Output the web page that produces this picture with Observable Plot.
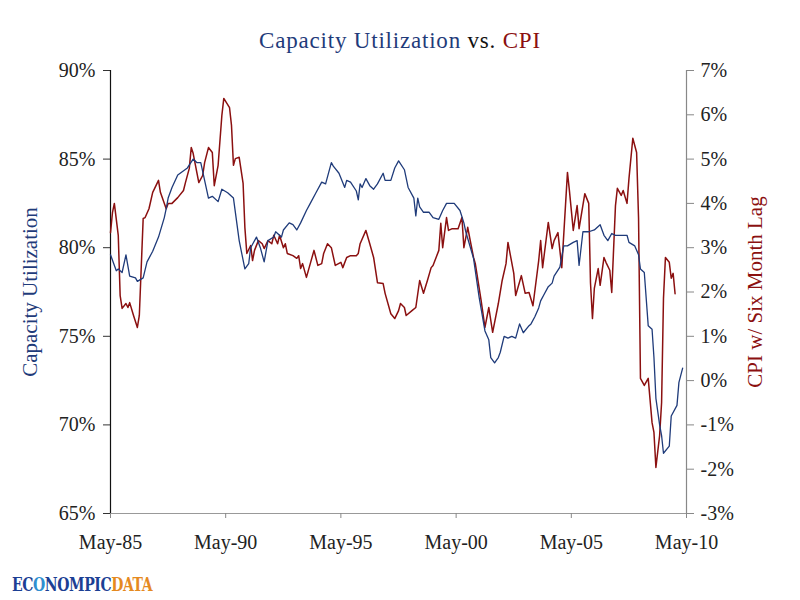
<!DOCTYPE html>
<html>
<head>
<meta charset="utf-8">
<script src="https://cdn.jsdelivr.net/npm/d3@7"></script>
<script src="https://cdn.jsdelivr.net/npm/@observablehq/plot@0.6"></script>
<style>
  html, body { margin: 0; padding: 0; background: #fff; }
  #wrap { position: relative; width: 800px; height: 600px; overflow: hidden; font-family: "Liberation Serif", serif; }
  #title { position: absolute; left: 0; top: 0; width: 800px; height: 60px; text-align: center; font-size: 23px; letter-spacing: 0.8px; line-height: 82px; }
  #chart { position: absolute; left: 0; top: 60px; }
  #logo { position: absolute; left: 12px; top: 573px; font-family: "DejaVu Serif Condensed", "DejaVu Serif", serif; font-weight: 900; font-size: 19px; letter-spacing: -0.5px; transform: scale(0.82, 1); transform-origin: 0 0; white-space: nowrap; }
</style>
</head>
<body>
<div id="wrap">
  <div id="title"><span style="color:#1f3b7a">Capacity Utilization</span> <span style="color:#111">vs.</span> <span style="color:#8b1010">CPI</span></div>
  <div id="chart"></div>
  <div id="logo"><span style="color:#1c3f94">EC</span><span style="color:#2f8fd0">O</span><span style="color:#1c3f94">NOMPIC</span><span style="color:#e58a1f">DATA</span></div>
</div>
<script>
// Capacity utilization (%), monthly readings [month, value]
const cuSeries = [
  ["1985-05",79.6],["1985-08",78.7],["1985-09",78.8],["1985-11",78.6],["1986-01",79.6],["1986-03",78.4],
  ["1986-06",78.3],["1986-07",78.1],["1986-10",78.3],["1986-12",79.2],["1987-03",79.8],["1987-06",80.6],
  ["1987-09",81.7],["1987-10",82.2],["1987-11",82.8],["1988-01",83.4],["1988-04",84.1],["1988-09",84.5],
  ["1988-12",85.0],["1989-02",84.8],["1989-04",84.8],["1989-08",82.8],["1989-10",82.9],["1990-01",82.6],
  ["1990-03",83.3],["1990-06",83.1],["1990-09",82.8],["1990-12",80.4],["1991-03",78.8],["1991-05",79.1],
  ["1991-06",80.0],["1991-09",80.6],["1991-11",80.0],["1992-01",79.2],["1992-03",80.4],["1992-06",80.6],
  ["1992-07",80.9],["1992-10",80.6],["1992-11",81.0],["1993-02",81.4],["1993-04",81.3],["1993-06",81.0],
  ["1993-08",81.4],["1993-11",82.1],["1994-01",82.5],["1994-04",83.1],["1994-07",83.7],["1994-09",83.6],
  ["1994-12",84.8],["1995-01",84.6],["1995-04",84.2],["1995-07",83.4],["1995-08",83.8],["1995-10",83.7],
  ["1996-01",83.2],["1996-02",82.7],["1996-03",83.6],["1996-04",83.4],["1996-06",83.9],["1996-08",83.5],
  ["1996-10",83.3],["1996-12",83.6],["1997-03",84.2],["1997-04",83.8],["1997-07",83.8],["1997-09",84.5],
  ["1997-11",84.9],["1998-02",84.4],["1998-04",83.4],["1998-07",82.8],["1998-08",81.8],["1998-09",82.8],
  ["1998-10",82.3],["1998-12",82.0],["1999-03",82.0],["1999-05",81.7],["1999-08",81.6],["1999-10",82.1],
  ["1999-12",82.5],["2000-02",82.5],["2000-04",82.5],["2000-07",82.1],["2000-09",81.4],["2000-10",80.9],
  ["2001-02",79.4],["2001-05",77.2],["2001-08",75.3],["2001-10",74.8],["2001-11",73.8],["2002-01",73.5],
  ["2002-03",73.8],["2002-04",74.1],["2002-06",75.0],["2002-08",74.9],["2002-10",75.0],["2002-12",74.9],
  ["2003-02",75.7],["2003-04",75.2],["2003-07",75.6],["2003-08",75.7],["2003-10",76.1],["2003-12",76.6],
  ["2004-01",77.0],["2004-03",77.4],["2004-05",77.8],["2004-07",78.0],["2004-08",78.4],["2004-11",78.9],
  ["2005-01",80.1],["2005-03",80.1],["2005-06",80.3],["2005-08",80.4],["2005-09",79.0],["2005-11",80.9],
  ["2006-02",80.9],["2006-05",81.0],["2006-08",81.3],["2006-10",80.7],["2006-12",80.4],["2007-02",80.8],
  ["2007-04",80.7],["2007-10",80.7],["2007-11",80.3],["2008-02",80.1],["2008-04",79.6],["2008-05",78.8],
  ["2008-07",78.6],["2008-09",75.6],["2008-11",75.4],["2008-12",73.8],["2009-01",71.5],["2009-03",70.0],
  ["2009-04",69.4],["2009-05",68.4],["2009-08",68.8],["2009-09",70.5],["2009-12",71.1],["2010-01",72.4],
  ["2010-03",73.2]
];
// CPI year-over-year (%), shown with a six month lag [month, value]
const cpiSeries = [
  ["1985-05",3.34],["1985-06",3.79],["1985-07",4.0],["1985-09",3.28],["1985-10",1.92],["1985-11",1.63],
  ["1986-01",1.74],["1986-02",1.65],["1986-03",1.76],["1986-05",1.47],["1986-07",1.20],["1986-08",1.47],
  ["1986-10",3.66],["1986-11",3.68],["1987-01",3.88],["1987-03",4.25],["1987-04",4.34],["1987-06",4.52],
  ["1987-07",4.25],["1987-10",3.88],["1987-11",4.0],["1988-01",4.0],["1988-04",4.13],["1988-07",4.29],
  ["1988-08",4.47],["1988-10",4.79],["1988-11",5.26],["1988-12",5.13],["1989-03",4.47],["1989-05",4.63],
  ["1989-06",4.92],["1989-08",5.26],["1989-10",5.15],["1989-11",4.40],["1990-01",4.86],["1990-03",5.98],
  ["1990-04",6.37],["1990-07",6.16],["1990-08",5.76],["1990-09",4.86],["1990-10",5.01],["1990-12",5.04],
  ["1991-02",4.45],["1991-03",3.46],["1991-04",2.87],["1991-06",3.05],["1991-07",2.71],["1991-08",2.94],
  ["1991-10",3.16],["1991-12",3.09],["1992-01",2.98],["1992-03",3.16],["1992-05",3.09],["1992-06",3.28],
  ["1992-08",3.09],["1992-09",3.28],["1992-11",3.0],["1992-12",3.09],["1993-01",2.87],["1993-04",2.82],
  ["1993-06",2.76],["1993-07",2.82],["1993-08",2.53],["1993-09",2.64],["1993-11",2.33],["1994-01",2.64],
  ["1994-03",2.94],["1994-05",2.60],["1994-07",2.64],["1994-08",2.87],["1994-10",3.09],["1994-12",3.0],
  ["1995-02",2.60],["1995-05",2.67],["1995-06",2.55],["1995-08",2.78],["1995-10",2.82],["1996-01",2.82],
  ["1996-02",2.87],["1996-03",3.09],["1996-06",3.39],["1996-08",3.09],["1996-10",2.78],["1996-12",2.21],
  ["1997-03",2.19],["1997-04",1.97],["1997-07",1.51],["1997-09",1.40],["1997-11",1.58],["1997-12",1.74],
  ["1998-02",1.65],["1998-03",1.47],["1998-06",1.58],["1998-08",1.65],["1998-10",2.26],["1998-12",1.97],
  ["1999-02",2.26],["1999-04",2.55],["1999-05",2.60],["1999-08",2.94],["1999-09",3.55],["1999-10",3.0],
  ["1999-12",3.68],["2000-01",3.39],["2000-03",3.43],["2000-06",3.43],["2000-08",3.68],["2000-09",3.0],
  ["2000-11",3.46],["2000-12",3.23],["2001-02",2.78],["2001-03",2.64],["2001-06",1.81],["2001-08",1.20],
  ["2001-10",1.65],["2001-12",1.09],["2002-03",1.74],["2002-05",2.26],["2002-07",2.64],["2002-08",3.12],
  ["2002-11",2.42],["2002-12",1.92],["2003-03",2.37],["2003-05",1.97],["2003-07",1.99],["2003-09",1.69],
  ["2003-12",2.71],["2004-01",3.16],["2004-02",2.55],["2004-05",3.57],["2004-07",2.98],["2004-08",3.16],
  ["2004-10",3.34],["2004-12",2.55],["2005-03",4.70],["2005-04",4.29],["2005-06",3.39],["2005-08",3.95],
  ["2005-09",3.43],["2005-12",4.22],["2006-02",4.0],["2006-03",2.21],["2006-04",1.40],["2006-05",2.08],
  ["2006-07",2.53],["2006-08",2.15],["2006-10",2.78],["2006-11",2.67],["2007-01",2.49],["2007-02",1.99],
  ["2007-04",3.95],["2007-05",4.34],["2007-07",4.18],["2007-08",4.29],["2007-10",4.0],["2007-11",4.56],
  ["2008-01",5.47],["2008-03",5.15],["2008-04",3.66],["2008-05",0.05],["2008-07",-0.11],["2008-09",0.05],
  ["2008-11",-0.95],["2008-12",-1.17],["2009-01",-1.96],["2009-03",-1.24],["2009-04",-0.50],["2009-05",1.85],
  ["2009-06",2.78],["2009-08",2.67],["2009-09",2.31],["2009-10",2.42],["2009-11",1.96]
];
const xTickMonths = ["1985-05","1990-05","1995-05","2000-05","2005-05","2010-05"];
const cuTicks = [65, 70, 75, 80, 85, 90];
const cpiTicks = [-3, -2, -1, 0, 1, 2, 3, 4, 5, 6, 7];

const blue = "#1f3b7a";
const red = "#8b1010";
const parse = d3.utcParse("%Y-%m");
// right axis (CPI, -3..7) shares the left scale (65..90)
const cpiToCu = c => 65 + (c + 3) * 2.5;
const cuToCpi = v => Math.round((v - 65) / 2.5 - 3);

const cu = cuSeries.map(([d, v]) => ({date: parse(d), value: v}));
const cpi = cpiSeries.map(([d, v]) => ({date: parse(d), value: cpiToCu(v)}));
const xTicks = xTickMonths.map(parse);
const x0 = xTicks[0], x1 = xTicks[xTicks.length - 1];

const chart = Plot.plot({
  width: 800,
  height: 505,
  marginLeft: 110,
  marginRight: 114,
  marginTop: 10,
  marginBottom: 52,
  style: {fontFamily: "'Liberation Serif', serif", fontSize: "20px", color: "#222", background: "white", overflow: "visible"},
  x: {type: "utc", domain: [x0, x1]},
  y: {domain: [65, 90]},
  marks: [
    Plot.ruleY([65], {stroke: "#999", strokeWidth: 1.2}),
    Plot.axisX(xTicks, {tickSize: 5, tickPadding: 16, stroke: "#888", fill: "#222", label: null,
      tickFormat: d => "May-" + d3.utcFormat("%y")(d)}),
    Plot.axisY(cuTicks, {anchor: "left", tickSize: 7, tickPadding: 8, stroke: "#333", fill: "#222", label: null,
      tickFormat: d => d + "%"}),
    Plot.axisY(cpiTicks.map(cpiToCu), {anchor: "right", tickSize: 7, tickPadding: 7, stroke: "#888", fill: "#222", label: null,
      tickFormat: d => cuToCpi(d) + "%"}),
    Plot.ruleX([x0], {stroke: "#111", strokeWidth: 1.2}),
    Plot.ruleX([x1], {stroke: "#888", strokeWidth: 1.2}),
    Plot.lineY(cpi, {x: "date", y: "value", stroke: red, strokeWidth: 1.5}),
    Plot.lineY(cu, {x: "date", y: "value", stroke: blue, strokeWidth: 1.3}),
    Plot.text(["Capacity Utilization"], {frameAnchor: "left", textAnchor: "middle", dx: -80, rotate: -90, fill: blue, fontSize: 21}),
    Plot.text(["CPI w/ Six Month Lag"], {frameAnchor: "right", textAnchor: "middle", dx: 69, rotate: -90, fill: red, fontSize: 21})
  ]
});
document.getElementById("chart").appendChild(chart);
</script>
</body>
</html>
